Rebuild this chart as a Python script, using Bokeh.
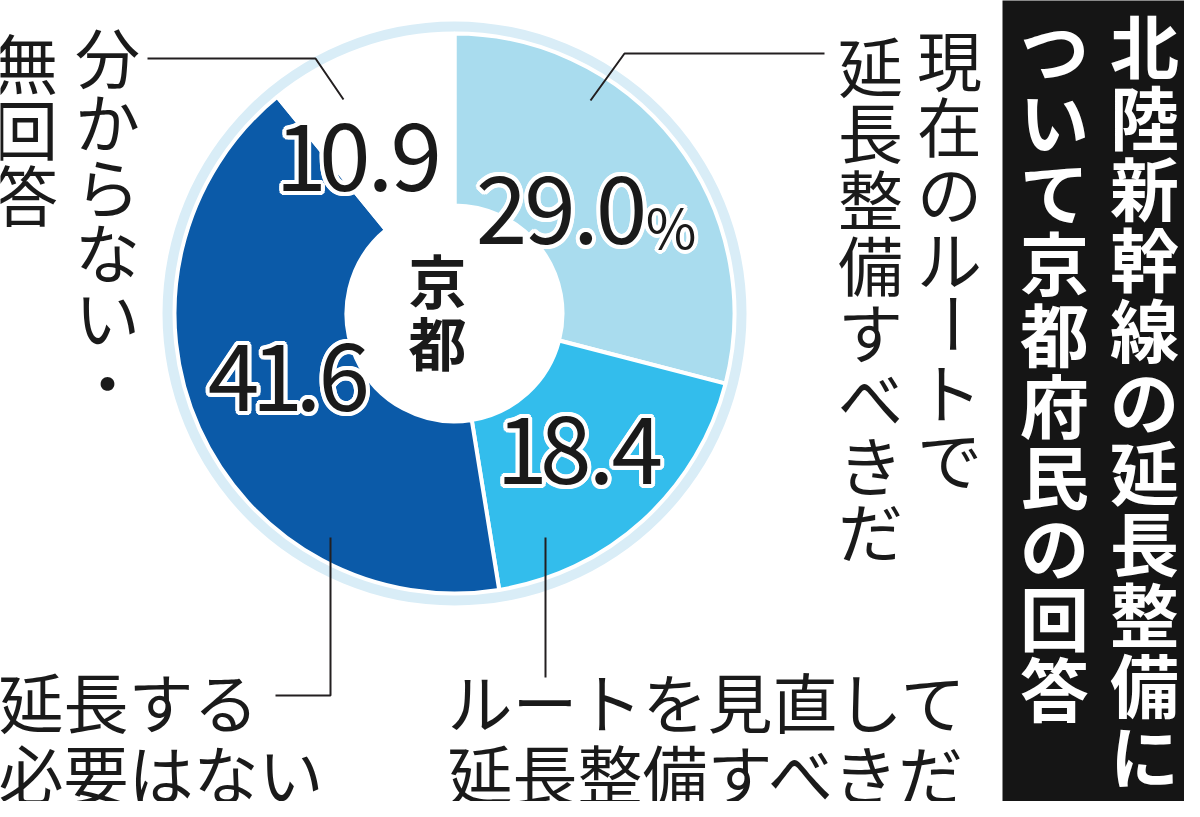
import math
from bokeh.plotting import figure
from bokeh.models import Range1d
from bokeh.core.properties import value
from bokeh.embed import file_html
from bokeh.resources import INLINE

# ---------------- data ----------------
categories = ["現在のルートで延長整備すべきだ", "ルートを見直して延長整備すべきだ",
              "延長する必要はない", "分からない・無回答"]
shares = [29.0, 18.4, 41.6, 10.9]
value_labels = ["29.0", "18.4", "41.6", "10.9"]
slice_colors = ["#a9dcee", "#33bdec", "#0b5aa8", "#ffffff"]
center_label = ["京", "都"]
title_lines = ["北陸新幹線の延長整備に", "ついて京都府民の回答"]
label_cols_cur = ["現在のルートで", "延長整備すべきだ"]
label_cols_unknown = ["分からない・", "無回答"]
label_rows_review = ["ルートを見直して", "延長整備すべきだ"]
label_rows_none = ["延長する", "必要はない"]

FONT = "Noto Sans CJK JP"
W, H = 1184, 801

p = figure(width=W, height=H, output_backend="svg", toolbar_location=None,
           x_range=Range1d(8, 8 + W), y_range=Range1d(-(8 + H), -8),
           min_border=0, outline_line_color=None)
p.axis.visible = False
p.grid.visible = False
p.background_fill_color = "white"
p.border_fill_color = "white"

def Y(v):
    return -v

CX, CY = 462, 321
R_IN, R_OUT = 108, 280

# pale outer ring
p.annulus(x=CX, y=Y(CY), inner_radius=R_OUT + 1, outer_radius=R_OUT + 12,
          fill_color="#d9edf7", line_color=None)

# slices, clockwise from 12 o'clock
total = sum(shares)
cum = 0.0
starts, ends = [], []
for s in shares:
    a0 = math.pi / 2 - 2 * math.pi * cum / total
    cum += s
    a1 = math.pi / 2 - 2 * math.pi * cum / total
    starts.append(a0)
    ends.append(a1)

p.annular_wedge(x=[CX] * len(shares), y=[Y(CY)] * len(shares),
                inner_radius=R_IN, outer_radius=R_OUT,
                start_angle=ends, end_angle=starts, direction="anticlock",
                fill_color=slice_colors, line_color="white", line_width=4)

# ---------------- value labels with white halo (set per character) ----------------
ADV = {"1": 0.42, ".": 0.25}

def halo_chars(x0, base, txt, size, r=4):
    xs, cur = [], x0
    for c in txt:
        a = ADV.get(c, 0.52) * size
        xs.append(cur + a / 2)
        cur += a
    yy = [Y(base - 0.38 * size)] * len(txt)
    chars = list(txt)
    for k in range(16):
        t = 2 * math.pi * k / 16
        p.text(x=xs, y=yy, text=chars, x_offset=r * math.cos(t), y_offset=r * math.sin(t),
               text_font=value(FONT), text_font_size=f"{size}px", text_color="white",
               text_align="center", text_baseline="alphabetic")
    p.text(x=xs, y=yy, text=chars, text_font=value(FONT), text_font_size=f"{size}px",
           text_color="#1a1a1a", text_align="center", text_baseline="alphabetic")
    return cur

num_pos = [(485, 253), (510, 493), (217, 420), (289, 200)]
SIZE = 93
end_290 = None
for (x, y), lab in zip(num_pos, value_labels):
    e = halo_chars(x, y, lab, SIZE)
    if end_290 is None:
        end_290 = e
# percent sign after the first value
pct = 55
p_x = end_290
for k in range(16):
    t = 2 * math.pi * k / 16
    p.text(x=[p_x], y=[Y(253 - 0.38 * pct)], text=["%"], x_offset=4 * math.cos(t), y_offset=4 * math.sin(t),
           text_font=value(FONT), text_font_size=f"{pct}px", text_color="white",
           text_align="left", text_baseline="alphabetic")
p.text(x=[p_x], y=[Y(253 - 0.38 * pct)], text=["%"], text_font=value(FONT), text_font_size=f"{pct}px",
       text_color="#1a1a1a", text_align="left", text_baseline="alphabetic")

# ---------------- vertical text helper ----------------
def vtext(chars, cx, top, size, pitch, color="#1a1a1a", style="normal"):
    n = len(chars)
    xs = [cx] * n
    ys = [Y(top + pitch * (i + 0.5)) for i in range(n)]
    ang = [math.pi / 2 if c == "ー" else 0.0 for c in chars]
    p.text(x=xs, y=ys, text=list(chars), angle=ang,
           text_font=value(FONT), text_font_size=f"{size}px", text_color=color,
           text_font_style=style, text_align="center", text_baseline="middle")

# centre label
vtext("".join(center_label), 445, 255, 58, 62, style="bold")

# title box
p.quad(left=1010, right=8 + W, top=Y(0), bottom=Y(812), fill_color="#151515", line_color=None)
vtext(title_lines[0], 1152, 16, 69, 71, color="white", style="bold")
vtext(title_lines[1], 1062, 20, 69, 71, color="white", style="bold")

# right vertical labels
vtext(label_cols_cur[0], 957, 32, 65, 66.5)
vtext(label_cols_cur[1], 878, 38, 65, 66.5)

# left vertical labels
vtext(label_cols_unknown[0], 115, 30, 65, 65)
vtext(label_cols_unknown[1], 33, 35, 65, 66)

# bottom horizontal labels
def htext(txt, x, cy, size):
    p.text(x=[x], y=[Y(cy)], text=[txt], text_font=value(FONT), text_font_size=f"{size}px",
           text_color="#1a1a1a", text_align="left", text_baseline="middle")

htext(label_rows_none[0], 6, 707, 65)
htext(label_rows_none[1], 6, 779, 65)
htext(label_rows_review[0], 455, 707, 65)
htext(label_rows_review[1], 455, 779, 65)

# leader lines
LC = "#231f20"
p.line(x=[832, 632, 598], y=[Y(61), Y(61), Y(108)], line_color=LC, line_width=2)
p.line(x=[155, 323, 351], y=[Y(66), Y(66), Y(107)], line_color=LC, line_width=2)
p.line(x=[338, 338, 283], y=[Y(545), Y(703), Y(703)], line_color=LC, line_width=2)
p.line(x=[553, 553], y=[Y(545), Y(685)], line_color=LC, line_width=2)

open("out.html", "w").write(file_html(p, INLINE))
